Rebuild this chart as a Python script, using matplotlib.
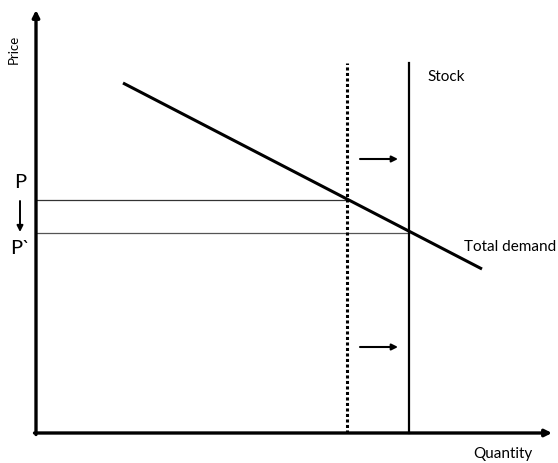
import matplotlib
matplotlib.use("Agg")
import matplotlib.pyplot as plt

# Data (quantity, price units; origin at axis corner)
demand_q = [87, 446]
demand_p = [350, 164]
stock_old_q = 311
stock_new_q = 373
stock_top = 370
price_P = 233
price_P2 = 200
axis_q_max = 516
axis_p_max = 423

plt.rcParams['font.family'] = ['Lato', 'DejaVu Sans']

fig = plt.figure(figsize=(5.58, 4.63), dpi=100)
ax = fig.add_axes([0, 0, 1, 1])
ax.set_xlim(-36, 522)
ax.set_ylim(-30, 433)
ax.axis('off')

# axes with arrows
ax.annotate('', xy=(0, axis_p_max), xytext=(0, -1.5),
            arrowprops=dict(arrowstyle='-|>', lw=2.4, color='black',
                            mutation_scale=10, shrinkA=0, shrinkB=0))
ax.annotate('', xy=(axis_q_max, 0), xytext=(-1.5, 0),
            arrowprops=dict(arrowstyle='-|>', lw=2.4, color='black',
                            mutation_scale=10, shrinkA=0, shrinkB=0))

# price lines
ax.plot([0, stock_old_q], [price_P, price_P], color='#333333', lw=0.9)
ax.plot([0, stock_new_q], [price_P2, price_P2], color='#555555', lw=0.9)

# stock lines
ax.plot([stock_old_q, stock_old_q], [0, stock_top], color='black', lw=2.2,
        linestyle=(0, (1, 0.8)))
ax.plot([stock_new_q, stock_new_q], [0, stock_top], color='black', lw=1.6)

# demand
ax.plot(demand_q, demand_p, color='black', lw=2.2, solid_capstyle='butt')

# shift arrows
for yy in [274, 86]:
    ax.annotate('', xy=(362, yy), xytext=(324, yy),
                arrowprops=dict(arrowstyle='-|>', lw=1.5, color='black',
                                mutation_scale=9, shrinkA=0, shrinkB=0))

# P arrow
ax.annotate('', xy=(-16, 201), xytext=(-16, 232),
            arrowprops=dict(arrowstyle='-|>', lw=1.4, color='black',
                            mutation_scale=9, shrinkA=0, shrinkB=0))

ax.text(-16, 250, 'P', fontsize=14.5, ha='center', va='center')
ax.text(-16, 185, 'P`', fontsize=14.5, ha='center', va='center')
ax.text(-22, 384, 'Price', fontsize=9.5, rotation=90, ha='center', va='center')
ax.text(391, 356, 'Stock', fontsize=11, ha='left', va='center')
ax.text(428, 186, 'Total demand', fontsize=11, ha='left', va='center')
ax.text(467, -21, 'Quantity', fontsize=11, ha='center', va='center')

fig.savefig('out.png', dpi=100)
